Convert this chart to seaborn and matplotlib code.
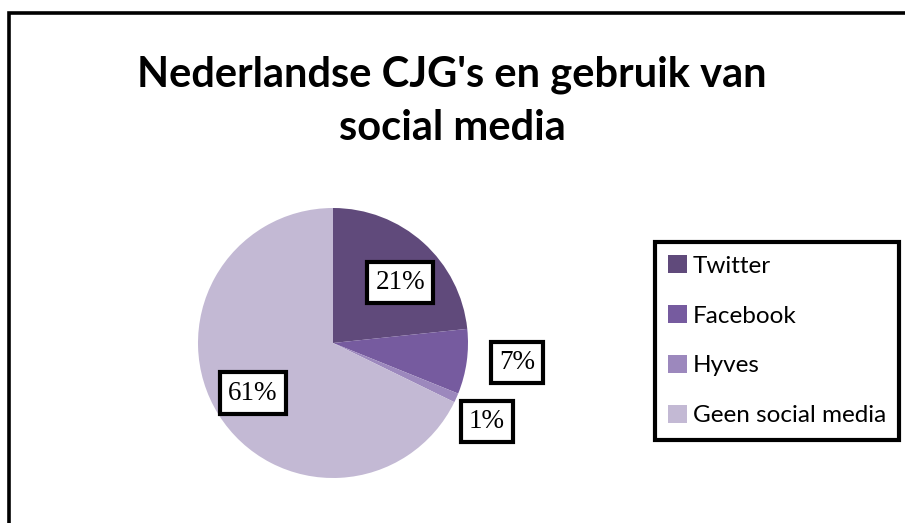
import numpy as np
import seaborn as sns
import matplotlib.pyplot as plt
from matplotlib.patches import Rectangle

# data
categorieen = ['Twitter', 'Facebook', 'Hyves', 'Geen social media']
waarden = [21, 7, 1, 61]
kleuren = ['#604a7b', '#765b9f', '#9c88bd', '#c3b9d4']
titel = "Nederlandse CJG's en gebruik van\nsocial media"

sns.set_style('white')
plt.rcParams['font.family'] = ['Lato', 'DejaVu Sans']
plt.rcParams['text.color'] = 'black'

fig = plt.figure(figsize=(9.05, 5.23), dpi=100)

# kader rond de figuur (rechts en onder vallen buiten beeld)
fig.patches.append(Rectangle((8.5 / 905, -0.1), 1.2, 1.1 - 13.5 / 523,
                             transform=fig.transFigure, fill=False,
                             edgecolor='black', linewidth=2.6, zorder=10))

fig.text(452 / 905, 1 - 101 / 523, titel, ha='center', va='center',
         fontsize=30, fontweight='bold', linespacing=1.5)

# taart
r_px = 135
half = 150
ax = fig.add_axes([(333 - half) / 905, (523 - 343 - half) / 523,
                   2 * half / 905, 2 * half / 523])
wedges, _ = ax.pie(waarden, colors=kleuren, startangle=90, counterclock=False,
                   radius=1, wedgeprops=dict(linewidth=0))
lim = half / r_px
ax.set_xlim(-lim, lim)
ax.set_ylim(-lim, lim)
ax.set_aspect('equal')
ax.axis('off')

# labels bij de punten
afstand = [0.67, 1.37, 1.28, 0.70]
hoek_extra = [-6, 2, -3, 0]
for w, v, d, h in zip(wedges, waarden, afstand, hoek_extra):
    mid = np.deg2rad((w.theta1 + w.theta2) / 2 + h)
    ax.text(d * np.cos(mid), d * np.sin(mid), f'{v}%', ha='center', va='center',
            fontsize=19.5, family='Liberation Serif',
            bbox=dict(boxstyle='square,pad=0.3', facecolor='white',
                      edgecolor='black', linewidth=3))

# legenda
leg = fig.legend(wedges, categorieen, loc='upper left',
                 bbox_to_anchor=(655 / 905, 1 - 242 / 523),
                 fontsize=17.5, frameon=True, fancybox=False, framealpha=1,
                 handlelength=0.75, handleheight=0.75, handletextpad=0.25,
                 labelspacing=1.17, borderpad=0.55, borderaxespad=0)
leg.get_frame().set_edgecolor('black')
leg.get_frame().set_linewidth(3)

fig.savefig('out.png', dpi=100)
